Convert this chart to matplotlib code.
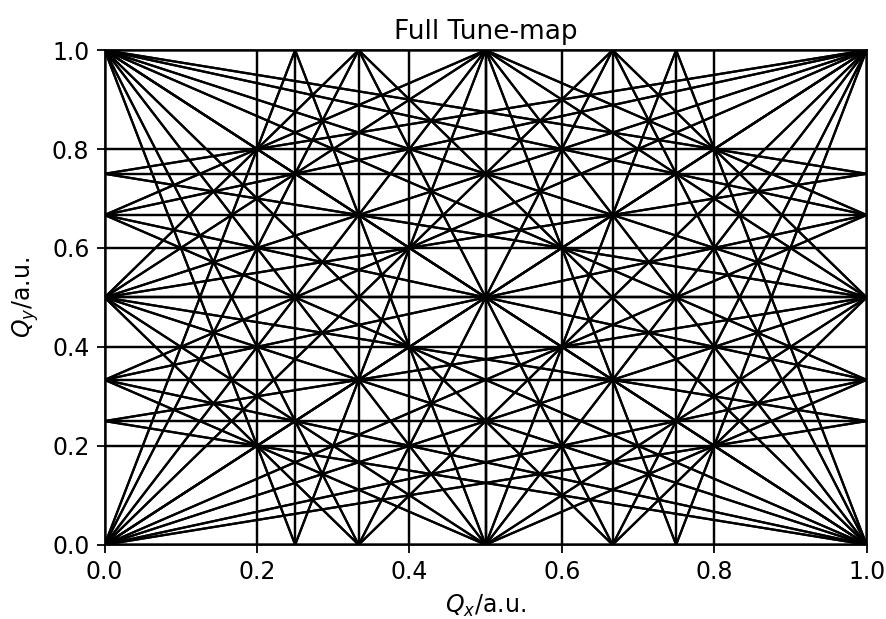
import numpy as np
import matplotlib
matplotlib.use("Agg")
import matplotlib.pyplot as plt

# Resonance lines m*Qx + n*Qy = p up to this order
max_order = 5
qx_range = [0.0, 1.0]
qy_range = [0.0, 1.0]
tick_values = [0.0, 0.2, 0.4, 0.6, 0.8, 1.0]

fig = plt.figure(figsize=(8.87, 6.19), dpi=100)
ax = fig.add_axes([0.118, 0.120, 0.859, 0.799])

lw = 1.6
for m in range(-max_order, max_order + 1):
    for n in range(-max_order, max_order + 1):
        if m == 0 and n == 0:
            continue
        if abs(m) + abs(n) > max_order:
            continue
        for p in range(-2 * max_order, 2 * max_order + 1):
            if n == 0:
                x0 = p / m
                if 0.0 <= x0 <= 1.0:
                    ax.plot([x0, x0], qy_range, color="k", lw=lw)
            else:
                xs = np.array(qx_range)
                ys = (p - m * xs) / n
                ax.plot(xs, ys, color="k", lw=lw)

ax.set_xlim(qx_range)
ax.set_ylim(qy_range)
ax.set_xticks(tick_values)
ax.set_yticks(tick_values)
ax.tick_params(labelsize=17, length=6, width=1.3, pad=5)
for s in ax.spines.values():
    s.set_linewidth(1.3)
ax.set_xlabel(r"$Q_x$/a.u.", fontsize=17, labelpad=6)
ax.set_ylabel(r"$Q_y$/a.u.", fontsize=17, labelpad=8)
ax.set_title("Full Tune-map", fontsize=19, pad=8)

fig.savefig("out.png", dpi=100)
